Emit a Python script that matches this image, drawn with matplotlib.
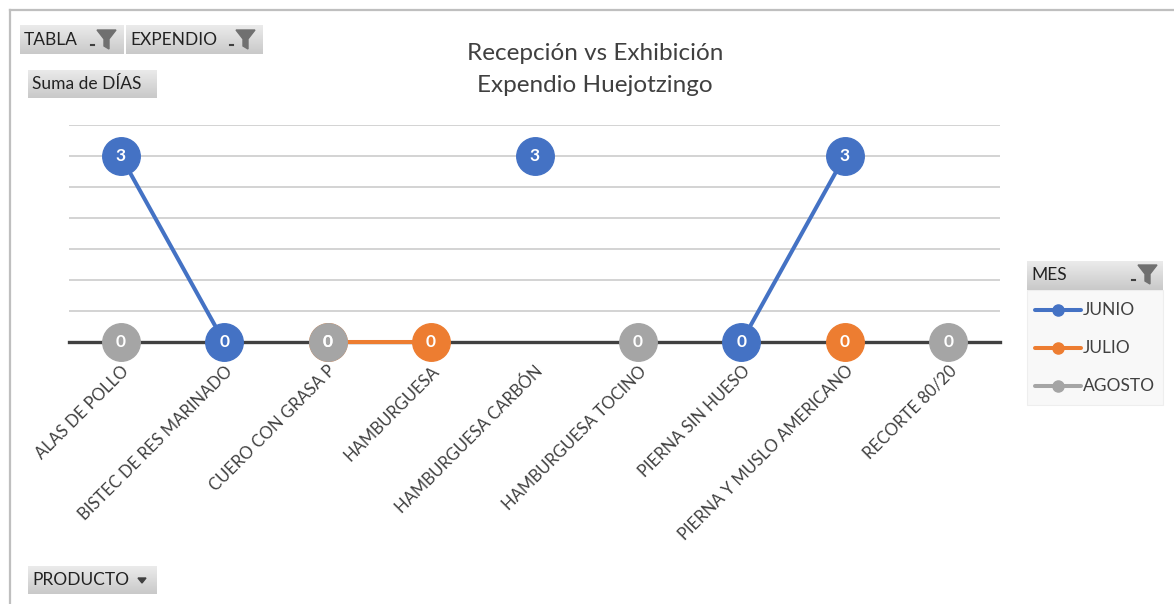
import numpy as np
import matplotlib
matplotlib.use('Agg')
import matplotlib.pyplot as plt
from matplotlib.patches import Rectangle, Polygon

plt.rcParams['font.family'] = ['Lato', 'DejaVu Sans']

# data
productos = ['ALAS DE POLLO', 'BISTEC DE RES MARINADO', 'CUERO CON GRASA P',
             'HAMBURGUESA', 'HAMBURGUESA CARBÓN', 'HAMBURGUESA TOCINO',
             'PIERNA SIN HUESO', 'PIERNA Y MUSLO AMERICANO', 'RECORTE 80/20']
nan = np.nan
junio = [3, 0, nan, nan, 3, nan, 0, 3, nan]
julio = [nan, nan, 0, 0, nan, nan, nan, 0, nan]
agosto = [0, nan, 0, nan, nan, 0, nan, nan, 0]
meses = ['JUNIO', 'JULIO', 'AGOSTO']
colores = ['#4472C4', '#ED7D31', '#A5A5A5']

W, H = 1174, 604
fig = plt.figure(figsize=(W / 100, H / 100), dpi=100)


def fx(x):
    return x / W


def fy(y):
    return 1 - y / H


# chart area border (left and top only visible)
fig.add_artist(plt.Line2D([fx(10), fx(10)], [fy(10), 0], color='#bfbfbf', lw=1.6))
fig.add_artist(plt.Line2D([fx(10), 1], [fy(10), fy(10)], color='#bfbfbf', lw=1.6))

# plot area
x0, x1, ytop, ybot = 69, 1000, 125, 342
ax = fig.add_axes([fx(x0), fy(ybot), fx(x1 - x0), (ybot - ytop) / H])
ax.set_xlim(-0.5, len(productos) - 0.5)
ax.set_ylim(0, 3.5)
for s in ax.spines.values():
    s.set_visible(False)
ax.set_yticks([])
for g in np.arange(0.5, 3.51, 0.5):
    ax.axhline(g, color='#d0d0d0', lw=1.3, zorder=0)
ax.axhline(0, color='#404040', lw=2.4, zorder=1, clip_on=False)

x = np.arange(len(productos))
for serie, nombre, c in zip([junio, julio, agosto], meses, colores):
    y = np.array(serie, dtype=float)
    ax.plot(x, y, color=c, lw=2.9, marker='o', markersize=27, markeredgecolor=c,
            label=nombre, clip_on=False, zorder=3)
    for xi, yi in zip(x, y):
        if not np.isnan(yi):
            ax.text(xi, yi, '%d' % yi, color='white', fontsize=12.5, fontweight='bold',
                    ha='center', va='center', zorder=5)

ax.set_xticks(x)
ax.set_xticklabels(productos, rotation=45, ha='right', rotation_mode='anchor',
                   fontsize=12, color='#404040')
ax.tick_params(axis='x', length=0, pad=15)

# title
fig.text(fx(595), fy(53), 'Recepción vs Exhibición', ha='center', va='center',
         fontsize=17.5, color='#404040')
fig.text(fx(595), fy(86), 'Expendio Huejotzingo', ha='center', va='center',
         fontsize=17.5, color='#404040')


def boton(xa, ya, xb, yb):
    bax = fig.add_axes([fx(xa), fy(yb), fx(xb - xa), (yb - ya) / H])
    grad = np.linspace(0, 1, 50).reshape(-1, 1)
    bax.imshow(grad, aspect='auto', cmap=matplotlib.colors.LinearSegmentedColormap.from_list(
        'b', ['#ebebeb', '#c9c9c9']), extent=[0, 1, 0, 1])
    bax.set_axis_off()


def embudo(xc, yc):
    # funnel icon (x, y at top-left)
    pts = [(xc, yc), (xc + 19, yc), (xc + 12, yc + 9), (xc + 12, yc + 19),
           (xc + 7, yc + 16), (xc + 7, yc + 9)]
    fig.add_artist(Polygon([(fx(a), fy(b)) for a, b in pts], closed=True,
                           color='#707070', transform=fig.transFigure))
    fig.add_artist(plt.Line2D([fx(xc - 6), fx(xc - 3)], [fy(yc + 15), fy(yc + 15)],
                              color='#404040', lw=1.5))


boton(20, 25, 124, 54)
boton(126, 25, 263, 54)
boton(28, 70, 157, 98)
boton(28, 566, 157, 594)
boton(1027, 261, 1163, 290)
fig.add_artist(Rectangle((fx(1027), fy(405)), fx(136), 115 / H, facecolor='#f8f8f8',
                         edgecolor='#eeeeee', lw=0.8, transform=fig.transFigure, zorder=0))

fs = 12.5
fig.text(fx(24), fy(40), 'TABLA', ha='left', va='center', fontsize=fs, color='#222222')
embudo(97, 30)
fig.text(fx(130), fy(40), 'EXPENDIO', ha='left', va='center', fontsize=fs, color='#222222')
embudo(236, 30)
fig.text(fx(32), fy(84), 'Suma de DÍAS', ha='left', va='center', fontsize=fs, color='#222222')
fig.text(fx(32), fy(580), 'PRODUCTO', ha='left', va='center', fontsize=fs, color='#222222')
fig.add_artist(Polygon([(fx(138), fy(578)), (fx(146), fy(578)), (fx(142), fy(583))],
                       closed=True, color='#404040', transform=fig.transFigure))
fig.text(fx(1031), fy(275), 'MES', ha='left', va='center', fontsize=fs, color='#222222')
embudo(1138, 265)

# legend entries
for i, (nombre, c) in enumerate(zip(meses, colores)):
    yy = 310 + i * 38
    fig.add_artist(plt.Line2D([fx(1035), fx(1081)], [fy(yy), fy(yy)], color=c, lw=2.9,
                              solid_capstyle='round'))
    fig.add_artist(plt.Line2D([fx(1058)], [fy(yy)], color=c, marker='o', markersize=8))
    fig.text(fx(1083), fy(yy), nombre, ha='left', va='center', fontsize=fs, color='#404040')

fig.savefig('out.png', dpi=100)
